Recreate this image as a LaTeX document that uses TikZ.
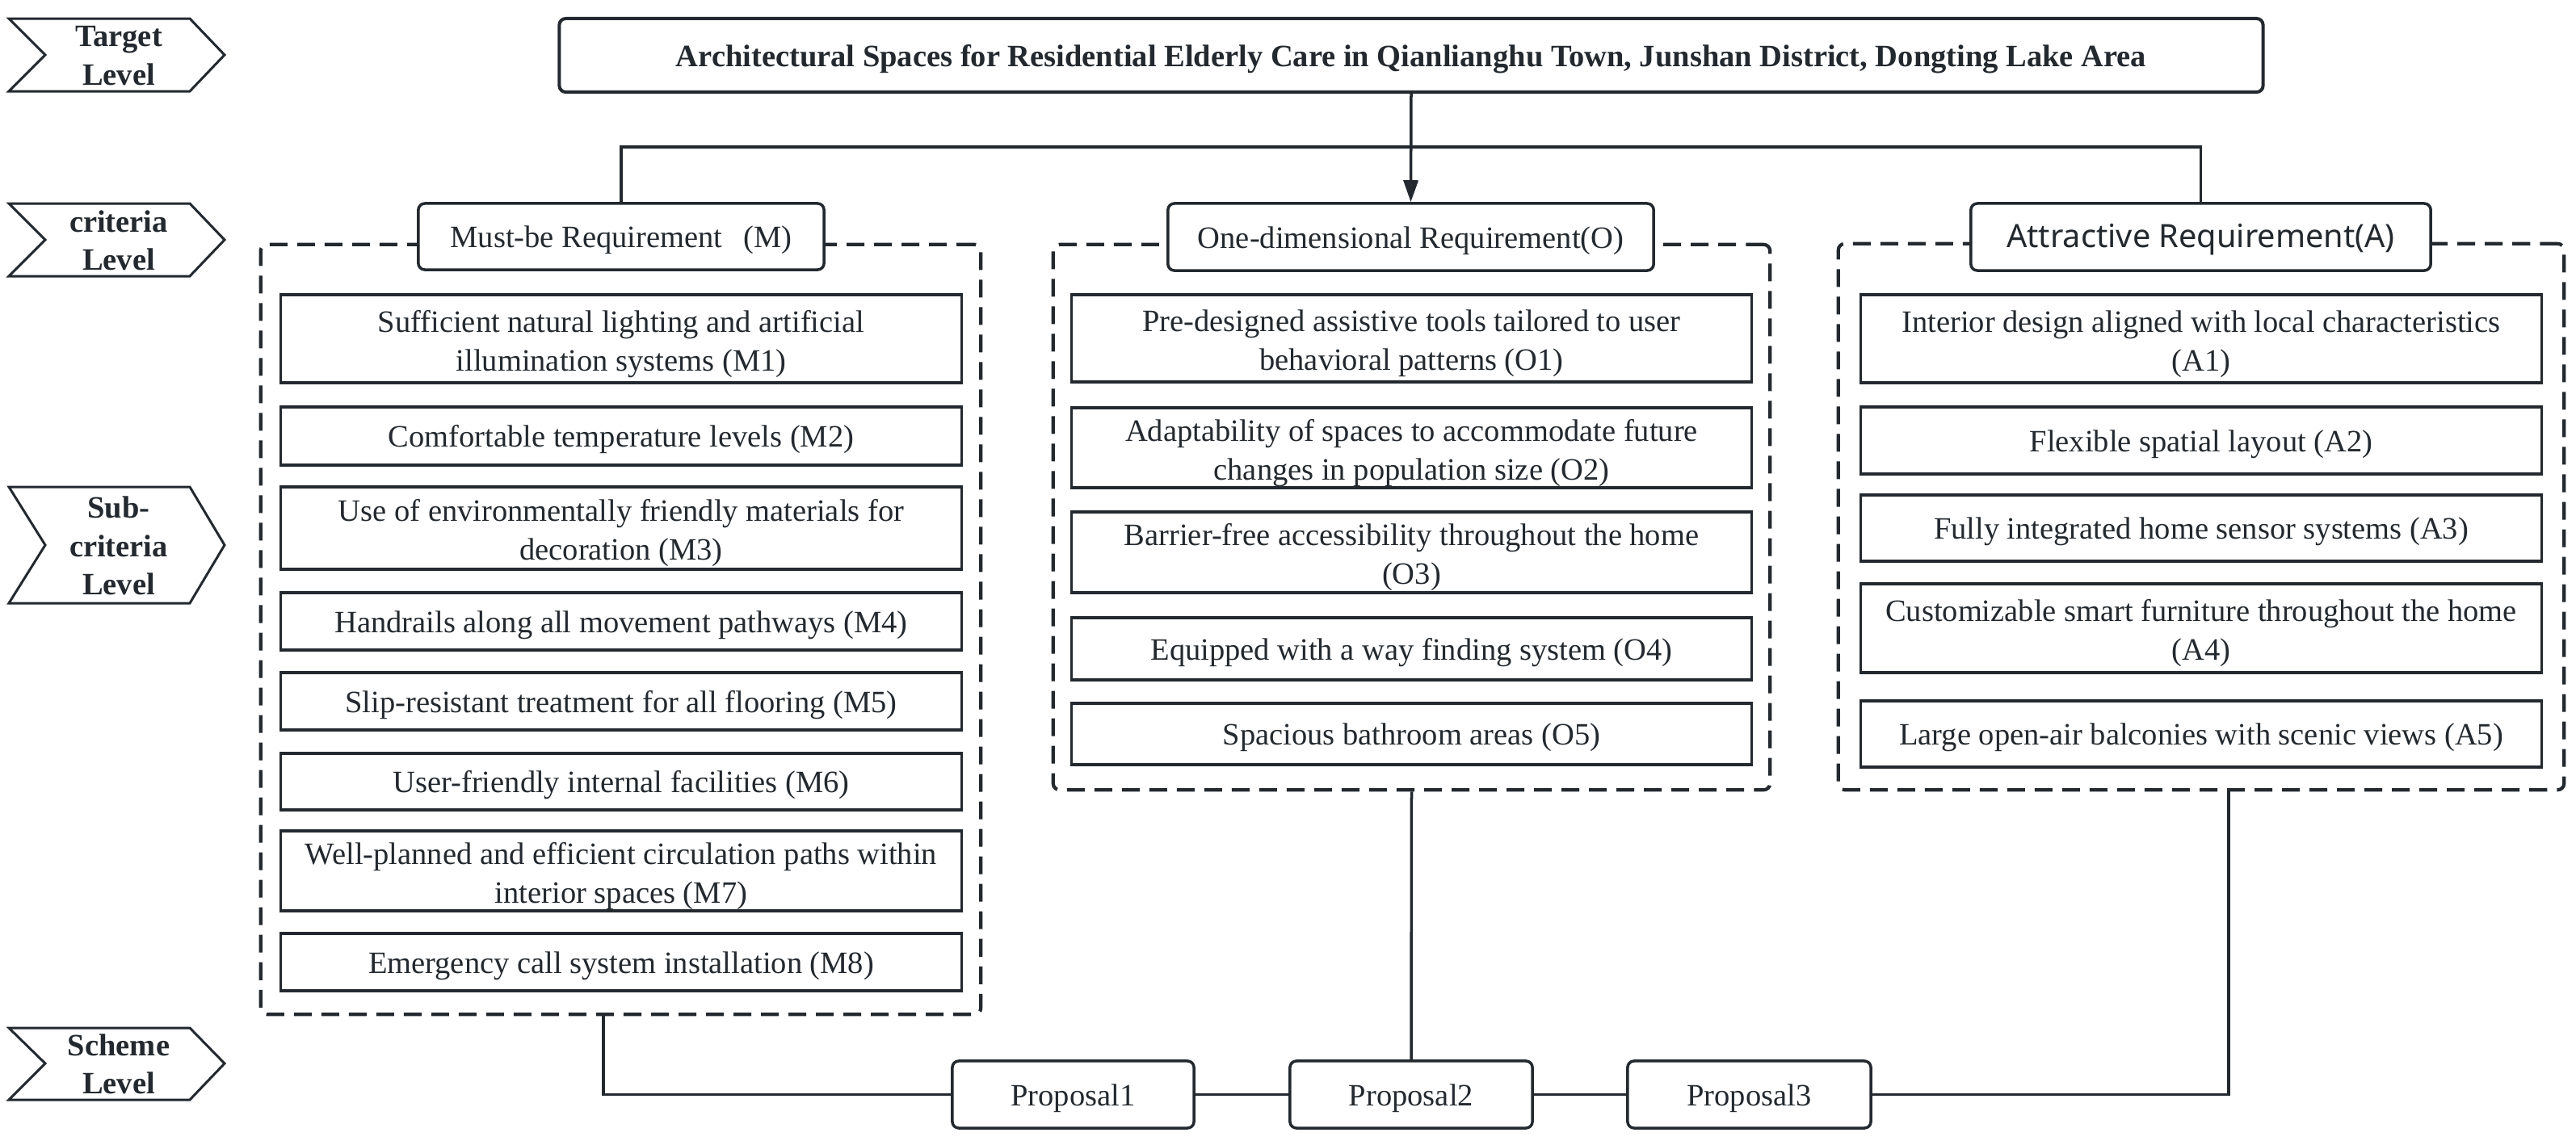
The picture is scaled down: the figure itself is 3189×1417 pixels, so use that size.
\documentclass[tikz,border=0pt]{standalone}
\usepackage{fontspec}
\setmainfont{Liberation Serif}
\newfontfamily\hsans{Noto Sans}
\usetikzlibrary{arrows.meta}
\definecolor{ink}{RGB}{35,41,46}
\newcommand{\dropstrut}{\rule{0pt}{0.36cm}}
\newcommand{\dropstrutb}{\rule{0pt}{0.40cm}}
\begin{document}
\begin{tikzpicture}[x=0.01cm,y=-0.01cm,
  every node/.style={font=\fontsize{10.95pt}{13.66pt}\selectfont, text=ink},
  sub/.style={draw=ink, line width=0.033cm, fill=white, minimum width=8.42cm, inner sep=0pt, align=center, execute at begin node=\dropstrut},
  hdr/.style={draw=ink, line width=0.035cm, fill=white, rounded corners=0.08cm, inner sep=0pt, align=center, execute at begin node=\dropstrut},
  grp/.style={draw=ink, line width=0.042cm, dash pattern=on 0.22cm off 0.12cm, rounded corners=0.08cm, inner sep=0pt},
  lvl/.style={draw=ink, line width=0.03cm, fill=white},
  lvltxt/.style={font=\bfseries\fontsize{10.95pt}{13.5pt}\selectfont, align=center, inner sep=0pt},
  conn/.style={draw=ink, line width=0.035cm},
]
\useasboundingbox (0,0) rectangle (3189,1417);

% level chevrons
\draw[lvl] (11,23) -- (235,23) -- (278,68) -- (235,113) -- (11,113) -- (56,68) -- cycle;
\node[lvltxt] (lv1) at (147,69) {Target\\Level};
\draw[lvl] (11,252) -- (235,252) -- (278,297) -- (235,342) -- (11,342) -- (56,297) -- cycle;
\node[lvltxt] (lv2) at (147,298) {criteria\\Level};
\draw[lvl] (11,603) -- (235,603) -- (278,675) -- (235,747) -- (11,747) -- (56,675) -- cycle;
\node[lvltxt] (lv3) at (147,676) {Sub-\\criteria\\Level};
\draw[lvl] (11,1273) -- (235,1273) -- (278,1317) -- (235,1362) -- (11,1362) -- (56,1317) -- cycle;
\node[lvltxt] (lv4) at (147,1318) {Scheme\\Level};

% title
\node[hdr, line width=0.04cm, minimum width=21.08cm, minimum height=0.91cm,
  font=\bfseries\fontsize{10.95pt}{13.66pt}\selectfont] (T) at (1747,68.5)
  {Architectural Spaces for Residential Elderly Care in Qianlianghu Town, Junshan District, Dongting Lake Area};

% groups
\node[grp, minimum width=8.91cm, minimum height=9.53cm] (gM) at (768.5,779.5) {};
\node[grp, minimum width=8.87cm, minimum height=6.75cm] (gO) at (1747.5,640.5) {};
\node[grp, minimum width=8.98cm, minimum height=6.76cm] (gA) at (2725,640) {};

% headers
\node[hdr, minimum width=5.02cm, minimum height=0.82cm] (Mh) at (769,293) {Must-be Requirement\hspace{0.67em}(M)};
\node[hdr, minimum width=6.01cm, minimum height=0.83cm] (Oh) at (1746.5,293.5) {One-dimensional Requirement(O)};
\node[hdr, minimum width=5.69cm, minimum height=0.83cm, font=\hsans\fontsize{11.3pt}{14pt}\selectfont] (Ah) at (2724.5,293.5) {Attractive Requirement(A)};

% M boxes
\node[sub, minimum height=1.09cm] (M1) at (769,419.5) {\dropstrutb Sufficient natural lighting and artificial\\illumination systems (M1)};
\node[sub, minimum height=0.72cm] (M2) at (769,540) {Comfortable temperature levels (M2)};
\node[sub, minimum height=1.02cm] (M3) at (769,654) {\dropstrutb Use of environmentally friendly materials for\\decoration (M3)};
\node[sub, minimum height=0.71cm] (M4) at (769,769.5) {Handrails along all movement pathways (M4)};
\node[sub, minimum height=0.71cm] (M5) at (769,868.5) {Slip-resistant treatment for all flooring (M5)};
\node[sub, minimum height=0.70cm] (M6) at (769,968) {User-friendly internal facilities (M6)};
\node[sub, minimum height=0.99cm] (M7) at (769,1078.5) {\dropstrutb Well-planned and efficient circulation paths within\\interior spaces (M7)};
\node[sub, minimum height=0.71cm] (M8) at (769,1191.5) {Emergency call system installation (M8)};

% O boxes
\node[sub, minimum height=1.08cm] (O1) at (1747.5,419) {\dropstrutb Pre-designed assistive tools tailored to user\\behavioral patterns (O1)};
\node[sub, minimum height=0.99cm] (O2) at (1747.5,554.5) {\dropstrutb Adaptability of spaces to accommodate future\\changes in population size (O2)};
\node[sub, minimum height=1.00cm] (O3) at (1747.5,684) {\dropstrutb Barrier-free accessibility throughout the home\\(O3)};
\node[sub, minimum height=0.77cm] (O4) at (1747.5,803.5) {Equipped with a way finding system (O4)};
\node[sub, minimum height=0.76cm] (O5) at (1747.5,909) {Spacious bathroom areas (O5)};

% A boxes
\node[sub, minimum height=1.09cm] (A1) at (2725,419.5) {\dropstrutb Interior design aligned with local characteristics\\(A1)};
\node[sub, minimum height=0.83cm] (A2) at (2725,545.5) {Flexible spatial layout (A2)};
\node[sub, minimum height=0.82cm] (A3) at (2725,654) {Fully integrated home sensor systems (A3)};
\node[sub, minimum height=1.10cm] (A4) at (2725,778) {\dropstrutb Customizable smart furniture throughout the home\\(A4)};
\node[sub, minimum height=0.82cm] (A5) at (2725,909) {Large open-air balconies with scenic views (A5)};

% proposals
\node[hdr, minimum width=2.99cm, minimum height=0.83cm] (P1) at (1328.5,1355.5) {Proposal1};
\node[hdr, minimum width=3.00cm, minimum height=0.83cm] (P2) at (1747,1355.5) {Proposal2};
\node[hdr, minimum width=3.01cm, minimum height=0.83cm] (P3) at (2165.5,1355.5) {Proposal3};

% connectors
\draw[conn] (Mh.north) -- ++(0,-68) -| (Ah.north);
\draw[conn, -{Triangle[length=0.27cm, width=0.18cm]}] (T.south) -- (Oh.north);
\draw[conn] ([xshift=-0.215cm]gM.south) |- (P1.west);
\draw[conn] (P1.east) -- (P2.west);
\draw[conn] (P2.east) -- (P3.west);
\draw[conn] (gO.south) -- (P2.north);
\draw[conn] (P3.east) -| ([xshift=0.34cm]gA.south);
\end{tikzpicture}
\end{document}
